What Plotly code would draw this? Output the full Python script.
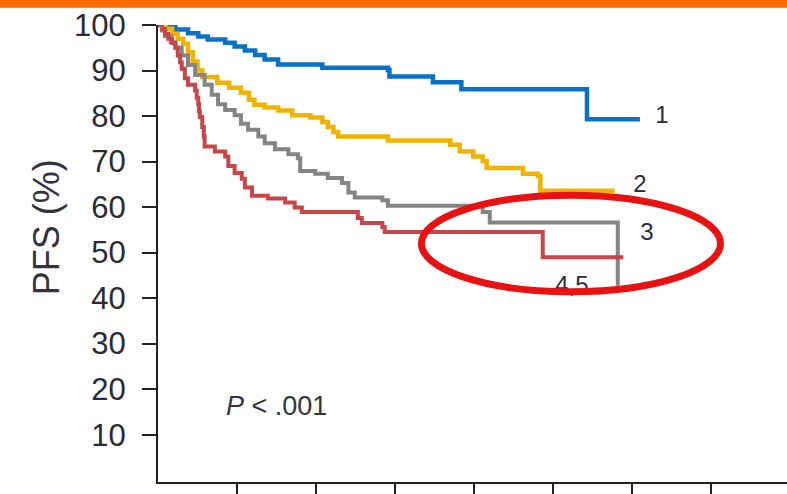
import plotly.graph_objects as go

# ---- data ----
y_ticks = [10, 20, 30, 40, 50, 60, 70, 80, 90, 100]
x_ticks = [1, 2, 3, 4, 5, 6, 7, 8]

g1_t = [0, 0.09, 0.22, 0.38, 0.51, 0.63, 0.85, 0.97, 1.10, 1.23, 1.35, 1.52, 2.08, 2.91, 2.93, 3.48, 3.84, 5.43, 6.10]
g1_s = [100, 99.5, 99.0, 98.2, 97.5, 96.8, 96.1, 95.3, 94.4, 93.4, 92.4, 91.3, 90.6, 90.1, 88.7, 87.4, 85.9, 79.3, 79.3]

g2_t = [0, 0.10, 0.18, 0.25, 0.32, 0.38, 0.44, 0.50, 0.56, 0.75, 0.90, 1.05, 1.15, 1.22, 1.35, 1.52, 1.70, 1.93,
        2.08, 2.15, 2.22, 2.28, 2.91, 3.70, 3.82, 3.99, 4.11, 4.16, 4.62, 4.81, 4.84, 5.78]
g2_s = [100, 99.2, 98.0, 97.0, 95.9, 94.0, 92.0, 90.0, 88.6, 87.3, 86.2, 85.1, 83.6, 82.5, 81.9, 81.2, 80.2, 79.7,
        78.7, 77.6, 76.5, 75.5, 74.6, 73.7, 72.2, 71.1, 70.1, 68.6, 67.3, 66.8, 63.6, 63.6]

g3_t = [0, 0.05, 0.09, 0.16, 0.22, 0.30, 0.38, 0.47, 0.59, 0.68, 0.76, 0.85, 0.97, 1.05, 1.14, 1.27, 1.35, 1.48,
        1.65, 1.77, 1.80, 1.99, 2.15, 2.33, 2.41, 2.49, 2.84, 2.91, 4.11, 4.20, 5.82, 5.82]
g3_s = [100, 98.8, 97.6, 96.2, 95.0, 93.3, 91.2, 89.0, 86.9, 84.7, 82.6, 81.3, 80.2, 78.3, 77.0, 75.5, 74.0, 72.7,
        71.6, 70.7, 67.9, 67.3, 66.4, 65.3, 63.2, 62.1, 61.5, 60.3, 58.9, 56.6, 56.6, 42.7]

g45_t = [0, 0.05, 0.09, 0.13, 0.18, 0.22, 0.25, 0.28, 0.30, 0.34, 0.38, 0.47, 0.49, 0.51, 0.52, 0.53, 0.56, 0.58,
         0.59, 0.72, 0.85, 0.89, 0.97, 1.06, 1.10, 1.19, 1.39, 1.61, 1.73, 1.82, 2.53, 2.58, 2.84, 2.87, 4.87, 5.89]
g45_s = [100, 99.1, 98.0, 97.0, 96.0, 95.0, 93.3, 91.8, 90.4, 88.3, 86.9, 85.6, 84.0, 82.6, 81.0, 79.8, 77.6, 75.5,
         73.3, 72.2, 71.1, 69.0, 67.5, 66.2, 64.3, 62.5, 61.9, 61.0, 59.9, 58.9, 57.6, 56.5, 55.6, 54.5, 49.0, 49.0]

groups = [
    ("1", g1_t, g1_s, "#0a72c6", 4.5),
    ("2", g2_t, g2_s, "#f0b400", 4.5),
    ("3", g3_t, g3_s, "#848484", 4),
    ("4,5", g45_t, g45_s, "#c8454a", 4),
]

# group labels (x, y in data units)
label_text = ["1", "2", "3", "4,5"]
label_x = [6.38, 6.10, 6.19, 5.24]
label_y = [79.8, 64.6, 54.1, 42.5]

fig = go.Figure()
for name, t, s, col, w in groups:
    fig.add_trace(go.Scatter(x=t, y=s, mode="lines", line=dict(color=col, width=w, shape="hv"),
                             name=name, showlegend=False, hoverinfo="skip"))

fig.add_trace(go.Scatter(x=label_x, y=label_y, mode="text", text=label_text,
                         textfont=dict(family="Liberation Sans, Arial", size=24, color="#2b2b3a"),
                         showlegend=False, hoverinfo="skip", cliponaxis=False))

fig.add_trace(go.Scatter(x=[0.86], y=[15.8], mode="text", text=["<i>P</i> < .001"], textposition="middle right",
                         textfont=dict(family="Liberation Sans, Arial", size=27, color="#333340"),
                         showlegend=False, hoverinfo="skip", cliponaxis=False))

# red ellipse highlight
fig.add_shape(type="circle", xref="x", yref="y", x0=3.335, x1=7.12, y0=41.4, y1=62.6,
              line=dict(color="#e81212", width=7), layer="above")

# orange top bar
fig.add_shape(type="rect", xref="paper", yref="paper", x0=-0.3, x1=1.05, y0=1.038, y1=1.08,
              fillcolor="#ff6a00", line=dict(width=0), layer="above")

fig.add_annotation(text="PFS (%)", xref="paper", yref="paper", x=(46 - 158) / 629, y=(488 - 230) / 463,
                   showarrow=False, textangle=-90, xanchor="center", yanchor="middle",
                   font=dict(family="Liberation Sans, Arial", size=36, color="#333340"))

fig.update_layout(
    width=787, height=494,
    margin=dict(l=158, r=0, t=25, b=6),
    paper_bgcolor="white", plot_bgcolor="white",
    xaxis=dict(range=[0, 629 / 79], tickvals=x_ticks, showticklabels=False, ticks="outside",
               ticklen=12, tickwidth=2, tickcolor="#222", showline=True, linecolor="#222", linewidth=2,
               showgrid=False, zeroline=False),
    yaxis=dict(range=[-0.4, 100], tickvals=y_ticks, ticktext=[str(v) for v in y_ticks], ticks="outside",
               ticklen=14, tickwidth=2, tickcolor="#222", showline=True, linecolor="#222", linewidth=2,
               showgrid=False, zeroline=False, ticklabelstandoff=10,
               tickfont=dict(family="Liberation Sans, Arial", size=31, color="#2a2a35")),
)

fig.write_html("out.html")
